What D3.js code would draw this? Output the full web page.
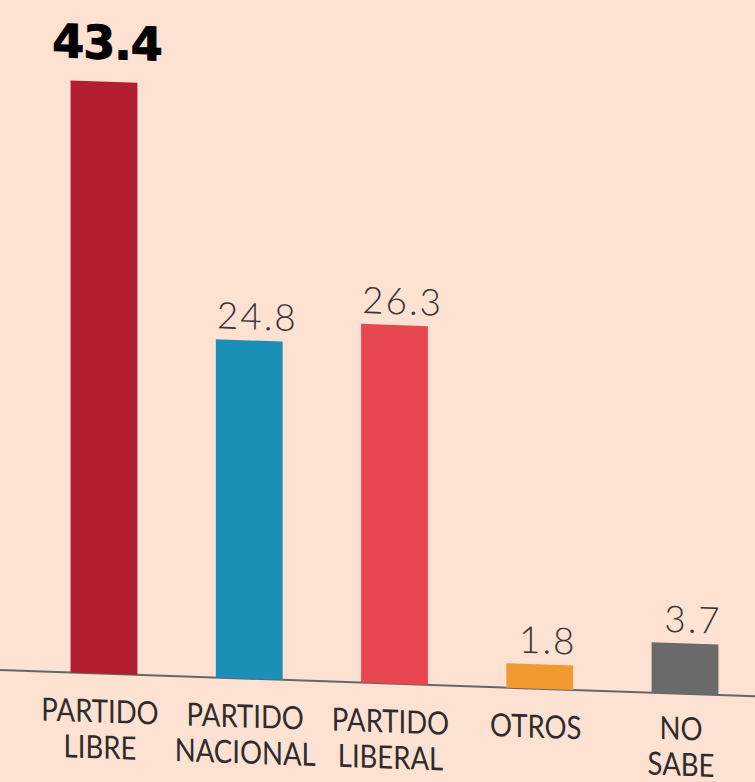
<!DOCTYPE html>
<html>
<head>
<meta charset="utf-8">
<script src="https://cdn.jsdelivr.net/npm/d3@7"></script>
<style>
  html, body { margin:0; padding:0; background:#fde2d3; }
  svg { display:block; }
</style>
</head>
<body>
<svg id="chart" width="755" height="782"></svg>
<script>
const categories = ['PARTIDO LIBRE', 'PARTIDO NACIONAL', 'PARTIDO LIBERAL', 'OTROS', 'NO SABE']
const labelLines = [['PARTIDO','LIBRE'], ['PARTIDO','NACIONAL'], ['PARTIDO','LIBERAL'], ['OTROS'], ['NO','SABE']]
const values = [43.4, 24.8, 26.3, 1.8, 3.7]
const colors = ['#b21d2f', '#1a90b6', '#e9474f', '#f19a31', '#6b6a6b']

const W = 755, H = 782
const baseY = 670
const svg = d3.select('#chart')
svg.append('rect').attr('width', W).attr('height', H).attr('fill', '#fde2d3')

// the photo is slightly tilted; keep verticals, slope the horizontals
const g = svg.append('g').attr('transform', 'skewY(2)')

const x = d3.scaleBand().domain(categories).range([27, 762]).paddingInner(0.54).paddingOuter(0.3)
const y = d3.scaleLinear().domain([0, 43.4]).range([baseY, 78])

g.append('line')
  .attr('x1', 0).attr('x2', W)
  .attr('y1', baseY).attr('y2', baseY)
  .attr('stroke', '#666').attr('stroke-width', 2)

g.selectAll('rect.bar').data(values).enter().append('rect')
  .attr('class', 'bar')
  .attr('x', (d,i) => x(categories[i]))
  .attr('width', x.bandwidth())
  .attr('y', d => y(d))
  .attr('height', d => baseY - y(d))
  .attr('fill', (d,i) => colors[i])

g.selectAll('text.val').data(values).enter().append('text')
  .attr('class', 'val')
  .attr('x', (d,i) => x(categories[i]) + x.bandwidth()/2 + (i === 0 ? 3 : 8))
  .attr('y', (d,i) => y(d) - (i === 0 ? 23 : 11))
  .attr('text-anchor', 'middle')
  .attr('font-family', (d,i) => i === 0 ? '"DejaVu Sans", sans-serif' : 'Lato, "DejaVu Sans", sans-serif')
  .attr('font-weight', (d,i) => i === 0 ? 900 : 300)
  .attr('font-size', (d,i) => i === 0 ? 46 : 37)
  .attr('letter-spacing', (d,i) => i === 0 ? -1 : 2)
  .attr('fill', (d,i) => i === 0 ? '#000' : '#3a3636')
  .attr('stroke', (d,i) => i === 0 ? '#000' : 'none')
  .attr('stroke-width', 1)
  .text(d => d.toFixed(1))

const cat = g.selectAll('text.cat').data(labelLines).enter().append('text')
  .attr('class', 'cat')
  .attr('transform', (d,i) => `translate(${x(categories[i]) + x.bandwidth()/2 - 4},${baseY + (i === 4 ? 46 : 49)}) scale(0.86,1)`)
  .attr('text-anchor', 'middle')
  .attr('font-family', 'Lato, "Liberation Sans", sans-serif')
  .attr('font-size', 32)
  .attr('fill', '#2f2c2c')
cat.selectAll('tspan').data(d => d).enter().append('tspan')
  .attr('x', 0)
  .attr('dy', (d,i) => i === 0 ? 0 : 36)
  .text(d => d)
</script>
</body>
</html>
